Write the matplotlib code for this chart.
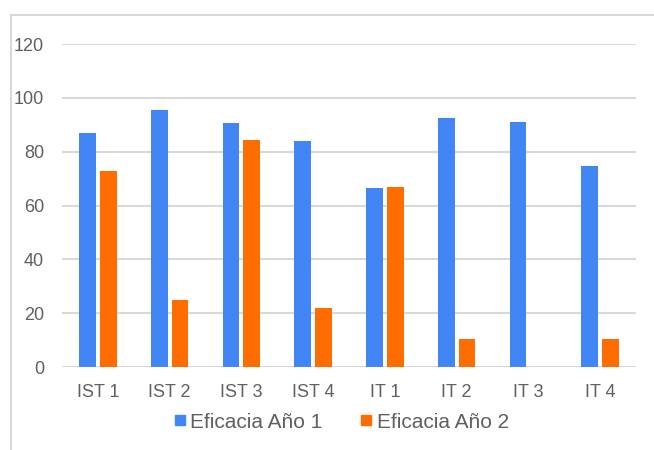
import numpy as np
import matplotlib.pyplot as plt
from matplotlib.lines import Line2D

plt.rcParams['font.family'] = ['Liberation Sans', 'DejaVu Sans']

categorias = ['IST 1', 'IST 2', 'IST 3', 'IST 4', 'IT 1', 'IT 2', 'IT 3', 'IT 4']
eficacia_1 = [87, 95.5, 90.5, 84, 66.5, 92.5, 91, 74.5]
eficacia_2 = [73, 25, 84.5, 22, 67, 10.5, 0, 10.5]
series = ['Eficacia Año 1', 'Eficacia Año 2']

azul = '#4285F4'
naranja = '#FF6D01'
gris_texto = '#606060'
gris_linea = '#d9d9d9'

fig = plt.figure(figsize=(6.54, 4.5), dpi=100)
ax = fig.add_axes([62 / 654, 1 - 367 / 450, 574 / 654, 323 / 450])

x = np.arange(len(categorias))
ancho = 0.235
ax.bar(x - 0.145, eficacia_1, width=ancho, color=azul, zorder=3)
ax.bar(x + 0.145, eficacia_2, width=ancho, color=naranja, zorder=3)

ax.set_xlim(-0.5, len(categorias) - 0.5)
ax.set_ylim(0, 120)
ax.set_yticks(np.arange(0, 121, 20))
ax.set_xticks(x)
ax.set_xticklabels(categorias)

ax.grid(axis='y', color=gris_linea, lw=1.5, zorder=0)
for s in ax.spines.values():
    s.set_visible(False)
ax.tick_params(axis='both', length=0, labelsize=13, labelcolor=gris_texto)
ax.tick_params(axis='x', pad=12)
ax.tick_params(axis='y', pad=13)

# leyenda con marcadores cuadrados
handles = [Line2D([], [], marker='s', ls='', color=c, markersize=7.5)
           for c in (azul, naranja)]
fig.legend(handles, series, loc='center', bbox_to_anchor=(340 / 654, 1 - 422 / 450),
           ncol=2, frameon=False, fontsize=15, labelcolor=gris_texto,
           handletextpad=0.1, columnspacing=1.7, handlelength=0.8)

# marco del gráfico (arriba e izquierda)
fig.add_artist(Line2D([11 / 654, 1], [1 - 15 / 450, 1 - 15 / 450],
                      transform=fig.transFigure, color=gris_linea, lw=1.5))
fig.add_artist(Line2D([11 / 654, 11 / 654], [0, 1 - 15 / 450],
                      transform=fig.transFigure, color=gris_linea, lw=1.5))

fig.savefig('out.png', dpi=100)
